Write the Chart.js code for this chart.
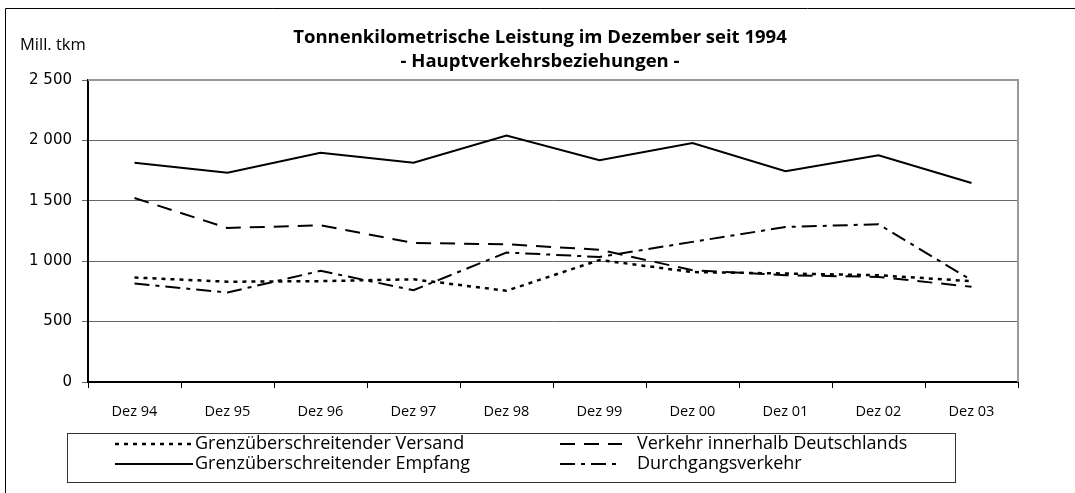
<!DOCTYPE html>
<html>
<head>
<meta charset="utf-8">
<script src="https://cdn.jsdelivr.net/npm/chart.js@4"></script>
<style>
  html, body { margin: 0; padding: 0; background: #fff; }
  #wrap { width: 1075px; height: 493px; }
</style>
</head>
<body>
<div id="wrap"><canvas id="tkmChart" width="1075" height="493"></canvas></div>
<script>
// data (Mill. tkm)
var months = ["Dez 94", "Dez 95", "Dez 96", "Dez 97", "Dez 98", "Dez 99", "Dez 00", "Dez 01", "Dez 02", "Dez 03"];
var versand = [865, 830, 835, 850, 755, 1010, 910, 898, 884, 835];
var innerhalb = [1523, 1275, 1297, 1151, 1140, 1095, 925, 884, 870, 788];
var empfang = [1815, 1733, 1898, 1815, 2041, 1835, 1978, 1744, 1876, 1647];
var durchgang = [815, 741, 920, 760, 1072, 1035, 1160, 1283, 1306, 843];
var yTicks = [0, 500, 1000, 1500, 2000, 2500];

var titleLines = ["Tonnenkilometrische Leistung im Dezember seit 1994", "- Hauptverkehrsbeziehungen -"];
var unitLabel = "Mill. tkm";

var textFont = "'Open Sans', sans-serif";

function fmt(v) {
	return String(v).replace(/\B(?=(\d{3})+(?!\d))/g, " ");
}

// frame, title, unit label, plot border and legend
var decorations = {
	id: "decorations",
	beforeDraw: function(chart) {
		var ctx = chart.ctx;
		ctx.save();
		ctx.strokeStyle = "#000";
		ctx.lineWidth = 1;
		ctx.beginPath();
		ctx.moveTo(5.5, 493);
		ctx.lineTo(5.5, 8.5);
		ctx.lineTo(1075, 8.5);
		ctx.stroke();

		ctx.fillStyle = "#000";
		ctx.textAlign = "center";
		ctx.textBaseline = "middle";
		ctx.font = "bold 18.5px " + textFont;
		ctx.fillText(titleLines[0], 540, 38);
		ctx.fillText(titleLines[1], 540, 62);

		ctx.textAlign = "left";
		ctx.font = "16.5px " + textFont;
		ctx.fillText(unitLabel, 20, 45);
		ctx.restore();
	},
	afterDraw: function(chart) {
		var ctx = chart.ctx;
		var a = chart.chartArea;
		ctx.save();
		ctx.strokeStyle = "#999";
		ctx.lineWidth = 2;
		ctx.beginPath();
		ctx.moveTo(a.left, a.top);
		ctx.lineTo(a.right, a.top);
		ctx.lineTo(a.right, a.bottom);
		ctx.stroke();

		// legend
		ctx.strokeStyle = "#333";
		ctx.lineWidth = 1;
		ctx.strokeRect(67.5, 433.5, 888, 49);

		var slots = [
			{ ds: 0, x1: 115, x2: 193, y: 444 },
			{ ds: 1, x1: 560, x2: 622, y: 444 },
			{ ds: 2, x1: 115, x2: 193, y: 464 },
			{ ds: 3, x1: 560, x2: 622, y: 464 }
		];
		ctx.font = "18px " + textFont;
		ctx.textBaseline = "middle";
		ctx.textAlign = "left";
		slots.forEach(function(s) {
			var d = chart.data.datasets[s.ds];
			ctx.strokeStyle = d.borderColor;
			ctx.lineWidth = d.borderWidth;
			ctx.setLineDash(d.borderDash || []);
			ctx.beginPath();
			ctx.moveTo(s.x1, s.y);
			ctx.lineTo(s.x2, s.y);
			ctx.stroke();
			ctx.setLineDash([]);
			ctx.fillStyle = "#000";
			ctx.fillText(d.label, s.x2 + (s.ds % 2 ? 15 : 2), s.y);
		});
		ctx.restore();
	}
};

var chartdata = {
	labels: months,
	datasets: [ {
		label: "Grenzüberschreitender Versand",
		data: versand,
		borderColor: "#000",
		borderWidth: 2.5,
		borderDash: [4, 5]
	}, {
		label: "Verkehr innerhalb Deutschlands",
		data: innerhalb,
		borderColor: "#000",
		borderWidth: 2,
		borderDash: [15, 9]
	}, {
		label: "Grenzüberschreitender Empfang",
		data: empfang,
		borderColor: "#000",
		borderWidth: 2,
		borderDash: []
	}, {
		label: "Durchgangsverkehr",
		data: durchgang,
		borderColor: "#000",
		borderWidth: 2,
		borderDash: [15, 6, 4, 6]
	} ]
};

new Chart(document.getElementById("tkmChart"), {
	type: "line",
	data: chartdata,
	options: {
		responsive: false,
		animation: false,
		layout: {
			padding: { left: 0, right: 57, top: 80, bottom: 61 }
		},
		elements: {
			point: { radius: 0, hoverRadius: 0 },
			line: { tension: 0, fill: false }
		},
		plugins: {
			legend: { display: false },
			title: { display: false },
			tooltip: { enabled: false }
		},
		scales: {
			x: {
				offset: true,
				grid: {
					offset: true,
					drawOnChartArea: false,
					drawTicks: true,
					tickLength: 6,
					color: "#000"
				},
				border: { color: "#000", width: 2 },
				ticks: {
					color: "#000",
					padding: 15,
					maxRotation: 0,
					font: { family: textFont, size: 14.5 }
				},
				afterFit: function(s) { s.height = 50; }
			},
			y: {
				min: 0,
				max: 2500,
				afterBuildTicks: function(s) {
					s.ticks = yTicks.map(function(v) { return { value: v }; });
				},
				grid: {
					color: "#666",
					lineWidth: 1,
					drawTicks: true,
					tickLength: 6
				},
				border: { color: "#000", width: 2 },
				ticks: {
					color: "#000",
					padding: 10,
					font: { family: "'DejaVu Sans', sans-serif", size: 15 },
					callback: function(v) { return fmt(v); }
				},
				afterFit: function(s) { s.width = 88; }
			}
		}
	},
	plugins: [decorations]
});
</script>
</body>
</html>
